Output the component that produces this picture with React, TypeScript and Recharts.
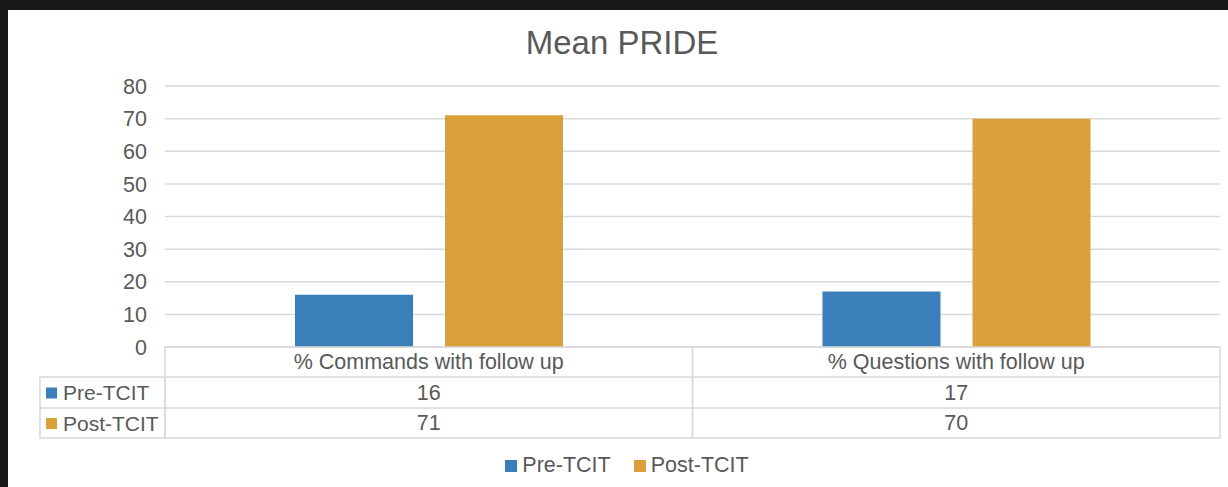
import React from "react";
import { BarChart, Bar, XAxis, YAxis, CartesianGrid, Legend } from "recharts";

const categories = ["% Commands with follow up", "% Questions with follow up"];
const preTCIT = [16, 17];
const postTCIT = [71, 70];
const yTicks = [0, 10, 20, 30, 40, 50, 60, 70, 80];
const seriesNames = ["Pre-TCIT", "Post-TCIT"];
const seriesKeys = ["pre", "post"];
const seriesColors = ["#3A7FBA", "#DAA03A"];

const data = categories.map((c, i) => ({ category: c, pre: preTCIT[i], post: postTCIT[i] }));
const seriesValues = [preTCIT, postTCIT];

const W = 1220;
const H = 477;
const M_TOP = 76;
const M_RIGHT = 8;
const Y_W = 157;
const X_H = 140;
const PLOT_W = W - Y_W - M_RIGHT;
const PLOT_B = H - X_H;
const CAT_W = PLOT_W / categories.length;
const ROW_Y = [PLOT_B, PLOT_B + 30, PLOT_B + 61, PLOT_B + 91];
const KEY_L = 32;
const BORDER = "#D9D9D9";
const TXT = "#595959";
const FONT = "'Liberation Sans', Arial, sans-serif";
const FS = 21.5;

const TableTick = (props: any) => {
  const { x, index, payload } = props;
  const left = x - CAT_W / 2;
  const right = x + CAT_W / 2;
  const cells: React.ReactNode[] = [];
  cells.push(
    <rect key="box" x={left} y={ROW_Y[0]} width={CAT_W} height={ROW_Y[3] - ROW_Y[0]} fill="none" stroke={BORDER} strokeWidth={1.5} />
  );
  cells.push(<line key="l1" x1={left} x2={right} y1={ROW_Y[1]} y2={ROW_Y[1]} stroke={BORDER} strokeWidth={1.5} />);
  cells.push(<line key="l2" x1={left} x2={right} y1={ROW_Y[2]} y2={ROW_Y[2]} stroke={BORDER} strokeWidth={1.5} />);
  cells.push(
    <text key="h" x={x} y={(ROW_Y[0] + ROW_Y[1]) / 2} textAnchor="middle" dominantBaseline="central" fill={TXT} fontSize={FS} fontFamily={FONT}>
      {payload.value}
    </text>
  );
  seriesValues.forEach((vals, s) => {
    cells.push(
      <text key={"v" + s} x={x} y={(ROW_Y[s + 1] + ROW_Y[s + 2]) / 2} textAnchor="middle" dominantBaseline="central" fill={TXT} fontSize={FS} fontFamily={FONT}>
        {vals[index]}
      </text>
    );
  });
  if (index === 0) {
    cells.push(
      <rect key="kbox" x={KEY_L} y={ROW_Y[1]} width={left - KEY_L} height={ROW_Y[3] - ROW_Y[1]} fill="none" stroke={BORDER} strokeWidth={1.5} />
    );
    cells.push(<line key="kl" x1={KEY_L} x2={left} y1={ROW_Y[2]} y2={ROW_Y[2]} stroke={BORDER} strokeWidth={1.5} />);
    seriesNames.forEach((n, s) => {
      const cy = (ROW_Y[s + 1] + ROW_Y[s + 2]) / 2;
      cells.push(<rect key={"ks" + s} x={KEY_L + 6} y={cy - 5} width={11} height={11} fill={seriesColors[s]} />);
      cells.push(
        <text key={"kt" + s} x={KEY_L + 23} y={cy} dominantBaseline="central" fill={TXT} fontSize={21} fontFamily={FONT}>
          {n}
        </text>
      );
    });
  }
  return <g>{cells}</g>;
};

const LegendContent = () => (
  <div style={{ display: "flex", justifyContent: "center", alignItems: "center", fontFamily: FONT, fontSize: FS, color: TXT, paddingLeft: 18 }}>
    {seriesNames.map((n, s) => (
      <div key={n} style={{ display: "flex", alignItems: "center", marginRight: s === 0 ? 23 : 0 }}>
        <div style={{ width: 12, height: 12, background: seriesColors[s], marginRight: 5 }} />
        <span>{n}</span>
      </div>
    ))}
  </div>
);

export default function App() {
  return (
    <div style={{ position: "relative", width: 1228, height: 487, background: "#181818", overflow: "hidden" }}>
      <style>{"body{margin:0;background:#181818}"}</style>
      <div style={{ position: "absolute", left: 8, top: 10, width: W, height: H, background: "#FFFFFF" }}>
        <BarChart width={W} height={H} data={data} margin={{ top: M_TOP, right: M_RIGHT, left: 0, bottom: 0 }} barSize={118} barGap={32}>
          <CartesianGrid vertical={false} stroke={BORDER} strokeWidth={1.5} />
          <XAxis dataKey="category" height={X_H} axisLine={false} tickLine={false} tick={<TableTick />} interval={0} />
          <YAxis
            width={Y_W}
            domain={[0, 80]}
            ticks={yTicks}
            axisLine={false}
            tickLine={false}
            tickMargin={12}
            tick={{ fill: TXT, fontSize: FS, fontFamily: FONT }}
          />
          <Legend
            verticalAlign="middle"
            align="center"
            layout="horizontal"
            content={<LegendContent />}
            wrapperStyle={{ top: 443, left: 0, width: W }}
          />
          {seriesKeys.map((k, s) => (
            <Bar key={k} dataKey={k} name={seriesNames[s]} fill={seriesColors[s]} isAnimationActive={false} />
          ))}
        </BarChart>
        <svg style={{ position: "absolute", left: 0, top: 0, pointerEvents: "none" }} width={W} height={80}>
          <text x={614} y={44} textAnchor="middle" fill={TXT} fontSize={33} fontFamily={FONT}>
            Mean PRIDE
          </text>
        </svg>
      </div>
    </div>
  );
}
